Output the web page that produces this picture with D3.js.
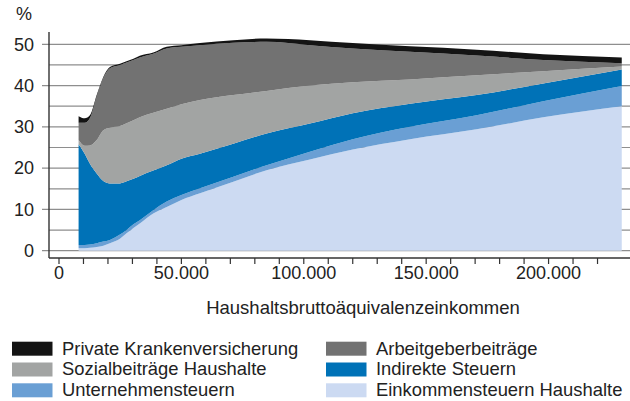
<!DOCTYPE html>
<html>
<head>
<meta charset="utf-8">
<script src="https://cdn.jsdelivr.net/npm/d3@7"></script>
<style>
  html, body { margin: 0; padding: 0; background: #fff; }
  svg { display: block; font-family: "Liberation Sans", Arial, Helvetica, sans-serif; }
  text { fill: #222; }
</style>
</head>
<body>
<div id="chart"></div>
<script>
// Einkommen (Haushaltsbruttoäquivalenzeinkommen) – Stützstellen
const incomes = [8000, 10500, 12700, 15400, 18100, 20800, 24900, 27600, 30400, 33000, 38500,
  44000, 50000, 57600, 71200, 84800, 102500, 120000, 143400, 170600, 197800, 229900];

// Belastung in % je Komponente (von unten nach oben gestapelt)
const einkommensteuer = [0.6, 0.6, 0.7, 0.9, 1.2, 1.8, 2.9, 4.2, 5.5, 6.6, 9.0,
  10.6, 12.3, 13.9, 16.7, 19.5, 22.1, 24.5, 27.0, 29.4, 32.3, 35.0];
const unternehmensteuer = [0.8, 0.8, 0.8, 0.9, 1.0, 0.8, 1.0, 0.8, 0.9, 0.8, 0.8,
  1.3, 1.2, 1.2, 1.2, 1.2, 1.9, 2.5, 3.0, 3.4, 3.9, 4.9];
const indirekteSteuern = [24.4, 22.1, 19.5, 16.9, 14.7, 13.7, 12.4, 11.8, 11.0, 10.7, 9.6,
  8.8, 8.8, 8.4, 8.0, 7.7, 6.8, 6.3, 5.6, 4.9, 4.3, 4.0];
const sozialbeitraege = [1.0, 1.9, 4.5, 8.1, 12.3, 13.5, 13.9, 14.1, 14.2, 14.2, 14.0,
  13.7, 13.2, 13.0, 11.8, 10.3, 9.2, 7.5, 5.9, 4.8, 3.0, 0.7];
const arbeitgeber = [4.2, 5.6, 6.7, 10.5, 12.6, 14.4, 14.8, 14.7, 14.6, 14.5, 14.3,
  14.6, 13.9, 13.3, 12.7, 11.9, 9.8, 8.2, 6.7, 4.8, 2.7, 0.8];
const privateKV = [1.6, 1.1, 0.7, 0.4, 0.3, 0.3, 0.3, 0.3, 0.3, 0.4, 0.3,
  0.4, 0.4, 0.5, 0.6, 0.8, 1.2, 1.3, 1.3, 1.4, 1.4, 1.4];

const seriesKeys = ['ek', 'ut', 'ind', 'soz', 'ag', 'pkv'];
const seriesNames = {
  pkv: 'Private Krankenversicherung',
  ag: 'Arbeitgeberbeiträge',
  soz: 'Sozialbeiträge Haushalte',
  ind: 'Indirekte Steuern',
  ut: 'Unternehmensteuern',
  ek: 'Einkommensteuern Haushalte'
};
const seriesColors = {
  pkv: '#141414',
  ag: '#727272',
  soz: '#a2a4a3',
  ind: '#0072b7',
  ut: '#6a9fd4',
  ek: '#ccdaf2'
};
const legendOrder = [['pkv', 'soz', 'ut'], ['ag', 'ind', 'ek']];

const yTicks = [0, 10, 20, 30, 40, 50];
const xLabels = [0, 50000, 100000, 150000, 200000];

const W = 630, H = 401;
const svg = d3.select('#chart').append('svg')
  .attr('width', W).attr('height', H);

const x = d3.scaleLinear().domain([0, 230000]).range([59, 622]);
const y = d3.scaleLinear().domain([0, 50]).range([250.7, 44.3]);
const axisX = 49, axisY = 258, rightEdge = 630;

const rows = incomes.map((inc, i) => ({
  inc,
  ek: einkommensteuer[i],
  ut: unternehmensteuer[i],
  ind: indirekteSteuern[i],
  soz: sozialbeitraege[i],
  ag: arbeitgeber[i],
  pkv: privateKV[i]
}));

// Gitterlinien alle 5 %
const grid = svg.append('g');
d3.range(0, 51, 5).forEach(v => {
  grid.append('line')
    .attr('x1', v % 10 === 0 ? axisX - 7 : axisX)
    .attr('x2', rightEdge)
    .attr('y1', y(v)).attr('y2', y(v))
    .attr('stroke', '#8e8e8e')
    .attr('stroke-width', 1.2);
});

// Gestapelte Flächen
const stacked = d3.stack().keys(seriesKeys)(rows);
const area = d3.area()
  .x(d => x(d.data.inc))
  .y0(d => y(d[0]))
  .y1(d => y(d[1]))
  .curve(d3.curveMonotoneX);

svg.append('g').selectAll('path')
  .data(stacked)
  .join('path')
  .attr('d', area)
  .attr('fill', d => seriesColors[d.key]);

// Achsen
svg.append('line')
  .attr('x1', axisX).attr('x2', axisX)
  .attr('y1', 32).attr('y2', axisY)
  .attr('stroke', '#333').attr('stroke-width', 1.4);
svg.append('line')
  .attr('x1', axisX).attr('x2', rightEdge)
  .attr('y1', axisY).attr('y2', axisY)
  .attr('stroke', '#333').attr('stroke-width', 1.4);

d3.range(0, 220001, 10000).forEach(v => {
  svg.append('line')
    .attr('x1', x(v)).attr('x2', x(v))
    .attr('y1', axisY).attr('y2', axisY + 6)
    .attr('stroke', '#333').attr('stroke-width', 1.2);
});

const fmt = d3.formatLocale({ decimal: ',', thousands: '.', grouping: [3], currency: ['', '€'] }).format(',d');

svg.append('g').selectAll('text')
  .data(xLabels)
  .join('text')
  .attr('x', d => x(d))
  .attr('y', 279)
  .attr('text-anchor', 'middle')
  .attr('font-size', 18)
  .text(d => fmt(d));

svg.append('g').selectAll('text')
  .data(yTicks)
  .join('text')
  .attr('x', 34)
  .attr('y', d => y(d) + 6.3)
  .attr('text-anchor', 'end')
  .attr('font-size', 18)
  .text(d => d);

svg.append('text')
  .attr('x', 16).attr('y', 19.5)
  .attr('font-size', 18)
  .text('%');

svg.append('text')
  .attr('x', 363).attr('y', 314)
  .attr('text-anchor', 'middle')
  .attr('font-size', 18.5)
  .text('Haushaltsbruttoäquivalenzeinkommen');

// Legende
const legendCols = [{ sx: 12, tx: 62 }, { sx: 326, tx: 376 }];
legendOrder.forEach((col, ci) => {
  col.forEach((key, ri) => {
    const top = 341.7 + ri * 20.8;
    svg.append('rect')
      .attr('x', legendCols[ci].sx).attr('y', top)
      .attr('width', 40.5).attr('height', 14)
      .attr('fill', seriesColors[key]);
    svg.append('text')
      .attr('x', legendCols[ci].tx).attr('y', top + 12.8)
      .attr('font-size', 18.4)
      .text(seriesNames[key]);
  });
});
</script>
</body>
</html>
